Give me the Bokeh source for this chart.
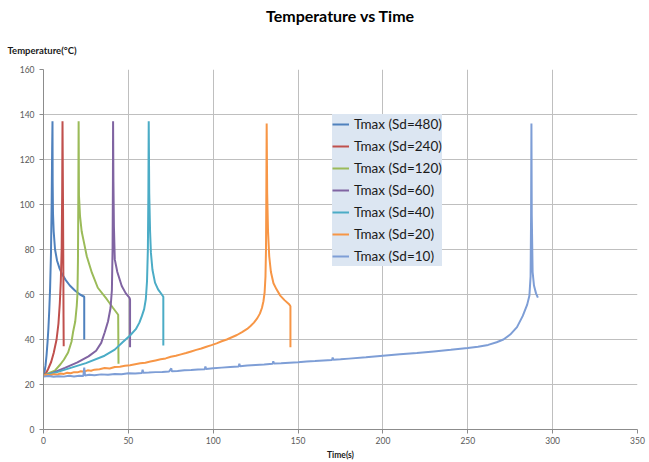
from bokeh.plotting import figure
from bokeh.models import FixedTicker, Title
from bokeh.embed import file_html
from bokeh.resources import INLINE

# ---------------- data ----------------
title_text = "Temperature vs Time"
y_label = "Temperature(°C)"
x_label = "Time(s)"
x_ticks = [0, 50, 100, 150, 200, 250, 300, 350]
y_ticks = [0, 20, 40, 60, 80, 100, 120, 140, 160]

series_names = ["Tmax (Sd=480)", "Tmax (Sd=240)", "Tmax (Sd=120)", "Tmax (Sd=60)",
                "Tmax (Sd=40)", "Tmax (Sd=20)", "Tmax (Sd=10)"]
series_colors = ["#4F81BD", "#C0504D", "#9BBB59", "#8064A2", "#4BACC6", "#F79646", "#7E9ED6"]

t_480 = [0, 0.6, 1.2, 1.8, 2.4, 2.9, 3.4, 3.9, 4.4, 4.8, 5.1, 5.3, 5.4, 5.6, 6.0, 6.8, 8.0,
         9.5, 11.0, 13.0, 15.5, 18.5, 21.5, 24.0, 24.0]
T_480 = [24.0, 25.5, 28.5, 33.0, 39.0, 45.0, 53.0, 63.0, 78.0, 100.0, 125.0, 137.0, 110.0,
         96.0, 88.0, 80.0, 75.0, 71.5, 69.0, 66.5, 64.0, 61.8, 60.0, 59.0, 40.0]

t_240 = [0, 1.5, 2.8, 4.5, 6.0, 7.7, 8.8, 9.6, 10.2, 10.7, 11.0, 11.2, 11.5, 11.7, 11.8, 11.9]
T_240 = [24.0, 25.0, 27.0, 30.0, 34.0, 40.0, 47.0, 56.0, 66.0, 80.0, 105.0, 137.0, 100.0,
         70.0, 50.0, 37.0]

t_120 = [0, 3, 6.7, 10, 12, 14.5, 16.5, 17.4, 18.7, 19.6, 20.0, 20.3, 20.5, 20.7, 20.9, 21.5,
         22.5, 23.5, 25.5, 28.5, 32.0, 37.3, 41.0, 44.0, 44.2]
T_120 = [24.0, 25.0, 26.2, 29.0, 31.0, 34.2, 39.0, 43.2, 48.0, 55.0, 60.0, 75.0, 100.0, 137.0,
         104.0, 95.0, 88.0, 84.4, 77.0, 69.7, 63.0, 57.9, 54.0, 51.0, 29.2]

t_60 = [0, 5, 12.6, 20, 26.5, 31, 34, 36.1, 38, 39.5, 40.3, 40.7, 40.9, 41.0, 41.2, 41.5, 42.0,
        43.5, 46.1, 48.5, 50.6, 51.0, 51.0]
T_60 = [24.0, 25.0, 27.4, 29.8, 32.5, 35.0, 38.5, 43.2, 48.0, 54.0, 62.0, 80.0, 110.0, 137.0,
        110.0, 90.0, 75.6, 70.0, 63.8, 60.5, 58.6, 57.8, 36.6]

t_40 = [0, 8, 16.5, 25, 36, 42, 46.6, 51, 54.4, 56.5, 58, 59.3, 60.3, 61.0, 61.5, 61.8, 62.0,
        62.3, 62.8, 63.3, 64.2, 65.7, 67.5, 69.6, 70.6, 70.6]
T_40 = [24.0, 25.5, 27.5, 29.5, 32.8, 35.5, 38.8, 41.8, 44.6, 47.5, 50.5, 53.5, 58.0, 66.0,
        80.0, 105.0, 137.0, 105.0, 88.0, 78.5, 71.0, 65.3, 62.3, 60.1, 59.0, 37.3]

t_20 = [0, 2, 4, 6, 8, 10, 12, 14, 16, 18, 20, 22, 24, 26, 28, 30, 33, 36, 39, 42, 45, 48, 51,
        54, 57, 60, 63, 66, 69, 72, 75, 78, 81, 84, 87, 90, 93, 96, 99, 102, 105, 108, 111, 114,
        117, 120, 122, 124, 126, 127.5, 128.7, 129.6, 130.3, 130.8, 131.1, 131.3, 131.5, 131.8,
        132.3, 133.0, 134.0, 135.5, 137.3, 139.5, 142.0, 144.7, 145.5, 145.5]
T_20 = [24.0, 24.3, 24.1, 24.6, 24.4, 24.9, 24.7, 25.2, 25.0, 25.5, 25.4, 25.9, 25.7, 26.3, 26.1,
        26.6, 26.8, 27.3, 27.1, 27.8, 27.9, 28.3, 28.6, 29.0, 29.4, 29.7, 30.2, 30.7, 31.2, 31.6,
        32.3, 32.8, 33.4, 34.0, 34.7, 35.4, 36.0, 36.8, 37.5, 38.3, 39.2, 40.0, 41.0, 42.0, 43.3,
        44.7, 46.0, 47.5, 49.5, 51.5, 54.0, 57.0, 61.0, 68.0, 80.0, 105.0, 136.0, 105.0, 88.0,
        77.0, 70.0, 65.0, 62.3, 59.5, 57.5, 55.7, 54.8, 36.6]

t_10 = [0, 3, 6, 9, 12, 15, 18, 21, 23.5, 24.0, 24.5, 27, 30, 34, 38, 42, 46, 50, 54, 58, 58.4,
        58.8, 62, 66, 70, 74, 75.3, 75.6, 79, 83, 87, 91, 95, 95.4, 95.8, 100, 105, 110, 115,
        115.4, 115.8, 120, 125, 130, 135, 135.4, 135.8, 140, 145, 150, 155, 160, 165, 170, 170.4,
        170.8, 175, 180, 190, 200, 210, 220, 230, 240, 250, 256, 262, 267, 271, 275, 279, 282.4,
        285, 286.3, 287.0, 287.3, 287.5, 287.7, 288.2, 289.0, 290.2, 291.3]
T_10 = [23.5, 23.8, 23.4, 23.7, 23.5, 23.9, 23.6, 23.9, 23.8, 27.5, 24.0, 24.3, 24.1, 24.5, 24.3,
        24.7, 24.6, 25.0, 24.9, 25.1, 26.6, 25.2, 25.3, 25.5, 25.6, 25.8, 27.2, 25.9, 26.0, 26.3,
        26.4, 26.7, 26.8, 28.0, 26.9, 27.2, 27.5, 27.8, 28.0, 29.2, 28.1, 28.4, 28.7, 28.9, 29.2,
        30.3, 29.3, 29.4, 29.7, 29.9, 30.2, 30.4, 30.7, 30.9, 32.0, 31.0, 31.2, 31.5, 32.1, 32.8,
        33.4, 34.0, 34.7, 35.4, 36.2, 36.8, 37.6, 38.8, 40.0, 42.2, 45.5, 50.5, 55.5, 59.4, 68.0,
        95.0, 136.0, 95.0, 70.0, 64.0, 60.5, 58.6]

series_t = [t_480, t_240, t_120, t_60, t_40, t_20, t_10]
series_T = [T_480, T_240, T_120, T_60, T_40, T_20, T_10]

# ---------------- figure ----------------
FONT = "Lato"
p = figure(width=649, height=462, x_range=(0, 350), y_range=(0, 160),
           output_backend="svg", toolbar_location=None, title=None,
           min_border_left=43, min_border_right=12, min_border_top=69, min_border_bottom=31)
p.outline_line_color = None
p.background_fill_color = "white"
p.border_fill_color = "white"

for name, col, tx, ty in zip(series_names, series_colors, series_t, series_T):
    p.line(tx, ty, line_color=col, line_width=2, legend_label=name)

p.xaxis.ticker = FixedTicker(ticks=x_ticks)
p.yaxis.ticker = FixedTicker(ticks=y_ticks)
p.xgrid.ticker = FixedTicker(ticks=x_ticks)
p.ygrid.ticker = FixedTicker(ticks=y_ticks)
for g in (p.xgrid, p.ygrid):
    g.grid_line_color = "#BFBFBF"
    g.grid_line_width = 1

for ax in (p.xaxis, p.yaxis):
    ax.axis_line_color = "#8C8C8C"
    ax.major_tick_line_color = "#8C8C8C"
    ax.major_tick_in = 0
    ax.major_tick_out = 4
    ax.minor_tick_line_color = None
    ax.major_label_text_font = FONT
    ax.major_label_text_font_size = "8.5px"
    ax.major_label_text_color = "#595959"
p.yaxis.major_label_standoff = 5
p.xaxis.major_label_standoff = 3

p.xaxis.axis_label = x_label
p.xaxis.axis_label_text_font = FONT
p.xaxis.axis_label_text_font_style = "bold"
p.xaxis.axis_label_text_font_size = "8.5px"
p.xaxis.axis_label_text_color = "#1A1A1A"
p.xaxis.axis_label_standoff = 3

# y label (horizontal, top-left) nearest the frame, main title above it
p.add_layout(Title(text=y_label, align="left", offset=-36, standoff=28,
                   text_font=FONT, text_font_style="bold", text_font_size="9.5px",
                   text_color="#1A1A1A"), "above")
p.add_layout(Title(text=title_text, align="center", offset=0, standoff=7,
                   text_font=FONT, text_font_style="bold", text_font_size="16px",
                   text_color="#000000"), "above")

lg = p.legend[0]
lg.location = (289, 163)
lg.background_fill_color = "#DCE6F2"
lg.background_fill_alpha = 1.0
lg.border_line_color = None
lg.label_text_font = FONT
lg.label_text_font_size = "13.5px"
lg.label_text_color = "#1A1A1A"
lg.glyph_width = 17
lg.glyph_height = 20
lg.label_height = 20
lg.spacing = 2
lg.padding = 5
lg.margin = 0
lg.label_standoff = 5

open("out.html", "w").write(file_html(p, INLINE))
